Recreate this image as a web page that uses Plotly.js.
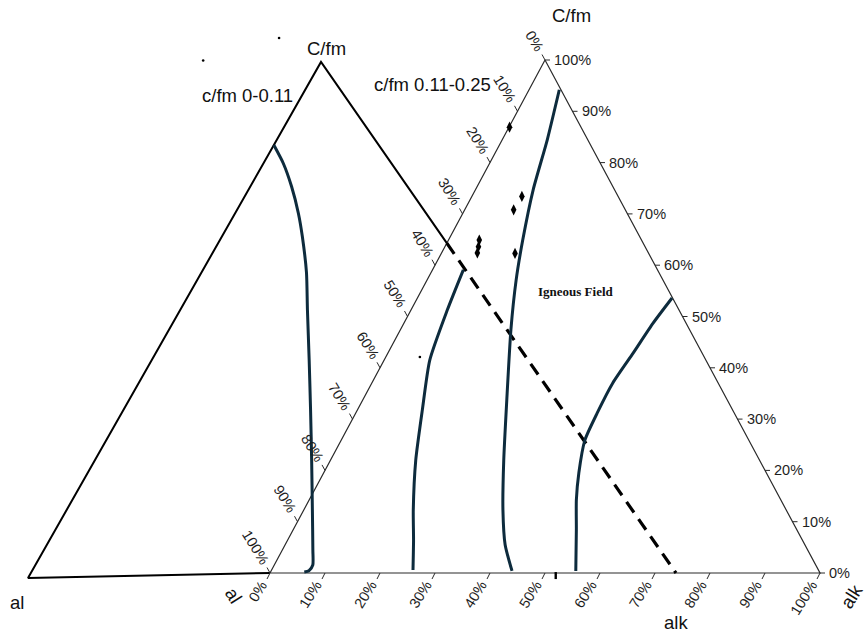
<!DOCTYPE html>
<html>
<head>
<meta charset="utf-8">
<script src="https://cdn.plot.ly/plotly-3.0.1.min.js"></script>
<style>
  html, body { margin: 0; padding: 0; background: #ffffff; }
  #chart { width: 866px; height: 635px; }
</style>
</head>
<body>
<div id="chart"></div>
<script>
// ---- Data -------------------------------------------------------------
// Percent ticks shared by the three sides of the c/fm 0.11-0.25 diagram
const tickValues = [0, 10, 20, 30, 40, 50, 60, 70, 80, 90, 100];
const tickLabels = tickValues.map(v => v + '%');

// Field boundaries in the c/fm 0.11-0.25 diagram (alk %, C/fm %)
const boundaryA_alk = [5.6, 6.6, 8.3, 11.8, 15.5, 19.9, 22.9, 25.7];
const boundaryA_cfm = [59.1, 51.3, 41.5, 31.8, 22.0, 12.3, 6.4, 0.6];

const boundaryB_alk = [5.5, 8.2, 10.5, 13.5, 16.2, 20.1, 26.2, 31.5, 36.2, 40.0, 43.8];
const boundaryB_cfm = [94.2, 84.4, 74.7, 64.9, 57.1, 47.4, 33.7, 22.0, 12.3, 5.5, 0.4];

const boundaryC_alk = [46.3, 45.3, 44.6, 43.8, 43.9, 44.3, 46.4, 48.6, 51.5, 55.4];
const boundaryC_cfm = [53.6, 48.7, 42.9, 37.0, 31.2, 25.9, 19.5, 14.2, 8.4, 0.4];

// Field boundary in the c/fm 0-0.11 diagram (alk %, C/fm %)
const boundaryLow_alk = [0, 3.1, 6.4, 9.8, 12.5, 16.3, 19.7, 24.4, 29.0, 33.6, 38.1, 41.7, 43.0, 42.9, 42.3];
const boundaryLow_cfm = [83.9, 80.3, 75.8, 70.6, 66.0, 59.0, 51.8, 42.0, 32.3, 22.5, 12.8, 5.0, 2.1, 1.0, 0.75];

// Samples (alk %, C/fm %)
const sample_alk = [0.1, 9.1, 8.9, 5.6, 6.1, 6.5, 13.4];
const sample_cfm = [86.9, 73.4, 70.8, 64.9, 63.6, 62.4, 62.3];

// Isolated specks (alk %, C/fm %)
const speck_alk = [-50.5, -62.1, 6.2];
const speck_cfm = [104.3, 99.9, 42.1];
const notch_alk = [52.2];
const notch_cfm = [-0.5];

// ---- Geometry ---------------------------------------------------------
// Frame: base of the right diagram runs x 0..1, its apex sits at (0.5, 1)
const PX = 550, PY = 513;                      // pixels per frame unit
const xRange = [-270 / PX, 596 / PX];
const yRange = [-62 / PY, 573 / PY];

// Right diagram: ternary (alk, C/fm) -> frame
function tern(alk, cfm) { const a = alk / 100, c = cfm / 100; return [a + c / 2, c]; }

// Left diagram corners: al, C/fm apex and alk corner
const Lal = [-0.44, -0.00975], Lcfm = [0.09273, 0.9961], Lalk = [0.73818, 0];
function ternLow(alk, cfm) {
  const k = alk / 100, c = cfm / 100;
  return [Lal[0] + k * (Lalk[0] - Lal[0]) + c * (Lcfm[0] - Lal[0]),
          Lal[1] + k * (Lalk[1] - Lal[1]) + c * (Lcfm[1] - Lal[1])];
}

function curve(alks, cfms, fn) {
  const xs = [], ys = [];
  alks.forEach((a, i) => { const p = fn(a, cfms[i]); xs.push(p[0]); ys.push(p[1]); });
  return { x: xs, y: ys };
}

// Where the left diagram's right side crosses the right diagram's left side
const dX = Lalk[0] - Lcfm[0], dY = Lalk[1] - Lcfm[1];
const tCross = (Lcfm[1] / 2 - Lcfm[0]) / (dX - dY / 2);
const cross = [Lcfm[0] + tCross * dX, Lcfm[1] + tCross * dY];

// ---- Traces -----------------------------------------------------------
const traces = [];
const boundaryColor = '#0d2b3d';

// Right diagram outline
traces.push({ x: [0, 1, 0.5, 0], y: [0, 0, 1, 0], mode: 'lines',
  line: { color: '#2a2a2a', width: 1.2 }, hoverinfo: 'skip' });

// Left diagram outline (solid part)
traces.push({ x: [0, Lal[0], Lcfm[0], cross[0]], y: [0, Lal[1], Lcfm[1], cross[1]],
  mode: 'lines', line: { color: '#000', width: 2 }, hoverinfo: 'skip' });

// Left diagram right side inside the right diagram (dashed)
traces.push({ x: [cross[0], Lalk[0]], y: [cross[1], Lalk[1]], mode: 'lines',
  line: { color: '#000', width: 3.2, dash: '13px,8px' }, hoverinfo: 'skip' });

// Tick marks
const tx = [], ty = [];
tickValues.forEach(v => {
  const f = v / 100;
  // bottom (alk)
  tx.push(f, f - 3 / PX, null); ty.push(0, -6 / PY, null);
  // right (C/fm)
  tx.push(1 - f / 2, 1 - f / 2 + 5 / PX, null); ty.push(f, f, null);
  // left (al)
  const c = 1 - f;
  tx.push(c / 2, c / 2 - 3 / PX, null); ty.push(c, c + 5.5 / PY, null);
});
traces.push({ x: tx, y: ty, mode: 'lines', line: { color: '#2a2a2a', width: 1 }, hoverinfo: 'skip' });

// Field boundaries
[[boundaryA_alk, boundaryA_cfm, tern], [boundaryB_alk, boundaryB_cfm, tern],
 [boundaryC_alk, boundaryC_cfm, tern], [boundaryLow_alk, boundaryLow_cfm, ternLow]]
  .forEach(([a, c, fn]) => {
    const p = curve(a, c, fn);
    traces.push({ x: p.x, y: p.y, mode: 'lines',
      line: { color: boundaryColor, width: 3, shape: 'spline', smoothing: 0.6 },
      hoverinfo: 'skip' });
  });

// Samples
const s = curve(sample_alk, sample_cfm, tern);
traces.push({ x: s.x, y: s.y, mode: 'markers',
  marker: { symbol: 'diamond-tall', size: 8, color: '#000' }, hoverinfo: 'skip' });

// Specks
const sp = curve(speck_alk, speck_cfm, tern);
traces.push({ x: sp.x, y: sp.y, mode: 'markers', marker: { size: 2.6, color: '#000' }, hoverinfo: 'skip' });
const nt = curve(notch_alk, notch_cfm, tern);
traces.push({ x: nt.x, y: nt.y, mode: 'markers',
  marker: { symbol: 'line-ns', size: 5, line: { color: '#000', width: 2.4 } }, hoverinfo: 'skip' });

// ---- Text -------------------------------------------------------------
const sans = 'Liberation Sans, Arial, sans-serif';
const tickFont = { family: sans, size: 14.5, color: '#1e1e1e' };
const annotations = [];
const ANG = 58 * Math.PI / 180;
function textLen(str, size) {
  let w = 0;
  for (const ch of str) w += (ch === '%') ? 0.889 : 0.556;
  return w * size;
}

tickValues.forEach((v, i) => {
  const f = v / 100;
  const half = textLen(tickLabels[i], tickFont.size) / 2;
  // bottom labels, reading upward to the right, ending near the tick
  annotations.push({ x: f, y: 0, xref: 'x', yref: 'y', text: tickLabels[i], showarrow: false,
    font: tickFont, textangle: -58, xanchor: 'center', yanchor: 'middle',
    xshift: -6.5 - half * Math.cos(ANG), yshift: -(9 + half * Math.sin(ANG)) });
  // right labels
  annotations.push({ x: 1 - f / 2, y: f, xref: 'x', yref: 'y', text: tickLabels[i], showarrow: false,
    font: tickFont, xanchor: 'left', yanchor: 'middle', xshift: 7 });
  // left labels, reading downward to the right
  const c = 1 - f;
  annotations.push({ x: c / 2, y: c, xref: 'x', yref: 'y', text: tickLabels[i], showarrow: false,
    font: tickFont, textangle: 58, xanchor: 'center', yanchor: 'middle',
    xshift: -5 - half * Math.cos(ANG), yshift: 10 + half * Math.sin(ANG) });
});

function pxText(text, px, py, opts) {
  return Object.assign({ x: (px - 270) / PX, y: (573 - py) / PY, xref: 'x', yref: 'y', text: text,
    showarrow: false, xanchor: 'center', yanchor: 'middle',
    font: { family: sans, size: 18.5, color: '#111' } }, opts || {});
}
annotations.push(pxText('C/fm', 326, 48));
annotations.push(pxText('C/fm', 571, 15));
annotations.push(pxText('c/fm 0-0.11', 247, 95));
annotations.push(pxText('c/fm 0.11-0.25', 432, 84));
annotations.push(pxText('al', 17, 602));
annotations.push(pxText('al', 234, 595, { textangle: 58 }));
annotations.push(pxText('alk', 676, 622));
annotations.push(pxText('alk', 851, 596, { textangle: -58, borderpad: 0 }));
annotations.push(pxText('<b>Igneous Field</b>', 576, 291,
  { font: { family: 'Liberation Serif, Times New Roman, serif', size: 13, color: '#111' } }));

const layout = {
  width: 866, height: 635,
  margin: { l: 0, r: 0, t: 0, b: 0, pad: 0 },
  paper_bgcolor: '#fff', plot_bgcolor: '#fff',
  showlegend: false,
  xaxis: { range: xRange, visible: false, fixedrange: true },
  yaxis: { range: yRange, visible: false, fixedrange: true },
  annotations: annotations
};

Plotly.newPlot('chart', traces, layout, { displayModeBar: false, staticPlot: true });
</script>
</body>
</html>
